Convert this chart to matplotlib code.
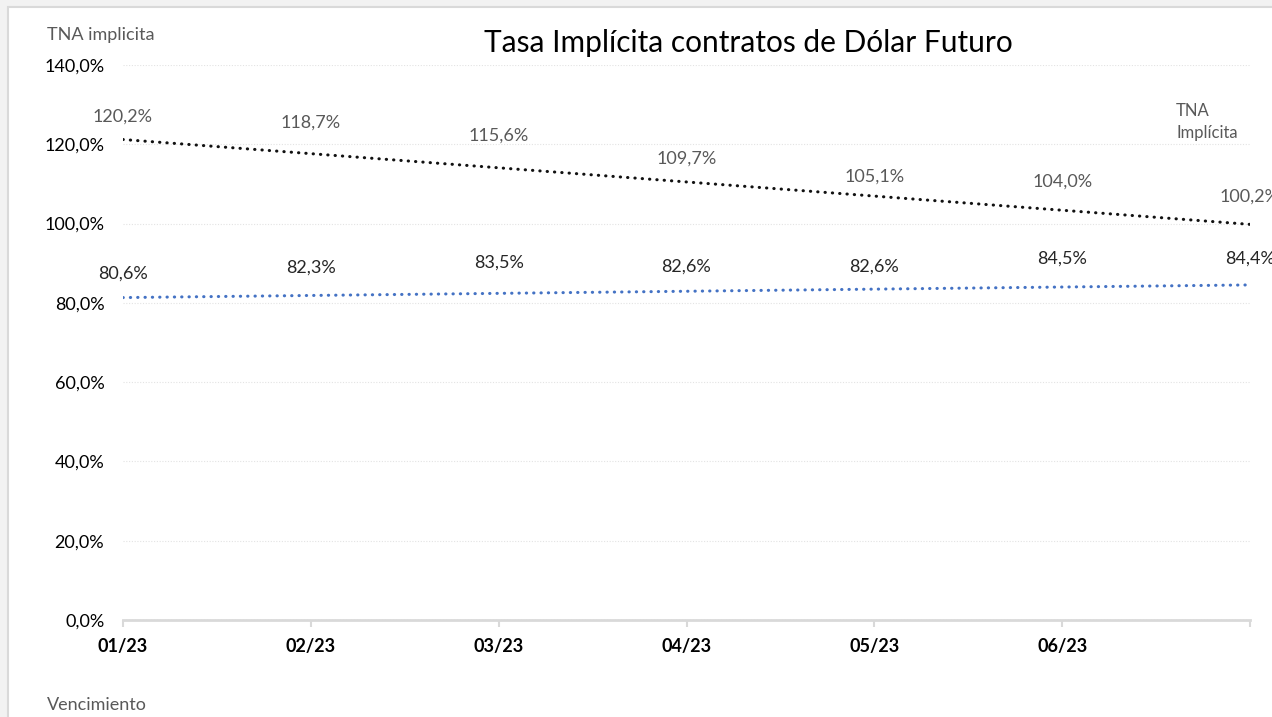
import matplotlib
matplotlib.use("Agg")
import matplotlib.pyplot as plt
from matplotlib.patches import Rectangle
import numpy as np

MONTHS = ["01/23", "02/23", "03/23", "04/23", "05/23", "06/23", ""]
TNA_IMPL = [120.2, 118.7, 115.6, 109.7, 105.1, 104.0, 100.2]
TNA_2 = [80.6, 82.3, 83.5, 82.6, 82.6, 84.5, 84.4]
YTICKS = [0, 20, 40, 60, 80, 100, 120, 140]

plt.rcParams.update({"font.family": ["Lato", "DejaVu Sans"], "font.size": 11})

W, H = 1272, 717
fig = plt.figure(figsize=(W / 100, H / 100), dpi=100, facecolor="#f2f2f2")
# chart area (white, grey frame, cut off at right and bottom)
fig.patches.append(Rectangle((8 / W, -0.1), 1.2, 1.1 - 7 / H, transform=fig.transFigure,
                             facecolor="white", edgecolor="#d9d9d9", linewidth=1.5, zorder=-10))

ax = fig.add_axes([123 / W, 1 - 620 / H, (1250 - 123) / W, (620 - 65) / H])
ax.set_facecolor("none")
ax.set_zorder(1)
x = np.arange(len(MONTHS))

for vals, col, lab_col in [(TNA_IMPL, "#111111", "#595959"), (TNA_2, "#4472c4", "#262626")]:
    k, b = np.polyfit(x, vals, 1)
    ax.plot(x, k * x + b, color=col, lw=2.2, linestyle=(0, (0.1, 2.3)),
            dash_capstyle="round", zorder=3)
    for xi, v in zip(x, vals):
        ax.annotate(f"{v:.1f}%".replace(".", ","), (xi, v), xytext=(0, 19),
                    textcoords="offset points", ha="center", va="center",
                    fontsize=13, color=lab_col, annotation_clip=False)

ax.set_xlim(0, 6)
ax.set_ylim(0, 140)
ax.set_yticks(YTICKS)
ax.set_yticklabels([f"{t:.1f}%".replace(".", ",") for t in YTICKS], fontsize=13, color="#000000")
ax.set_xticks(x)
ax.set_xticklabels(MONTHS, fontsize=13, fontweight="bold")
ax.tick_params(axis="y", length=0, pad=13.5)
ax.tick_params(axis="x", length=5, width=1.5, color="#d9d9d9", pad=8)

ax.grid(axis="y", color="#e3e3e3", linestyle=(0, (1, 1.5)), lw=0.8)
for side in ["top", "right", "left"]:
    ax.spines[side].set_visible(False)
ax.spines["bottom"].set_color("#d9d9d9")
ax.spines["bottom"].set_linewidth(2)

fig.text(748 / W, 1 - 43 / H, "Tasa Implícita contratos de Dólar Futuro", ha="center",
         va="center", fontsize=21.5, color="#000000")
fig.text(47 / W, 1 - 35 / H, "TNA implicita", ha="left", va="center", fontsize=13, color="#595959")
fig.text(47 / W, 1 - 705 / H, "Vencimiento", ha="left", va="center", fontsize=13, color="#595959")
fig.text(1176 / W, 1 - 122 / H, "TNA\nImplícita", ha="left", va="center", fontsize=12,
         color="#595959", linespacing=1.4)

fig.savefig("out.png", dpi=100, facecolor=fig.get_facecolor())
